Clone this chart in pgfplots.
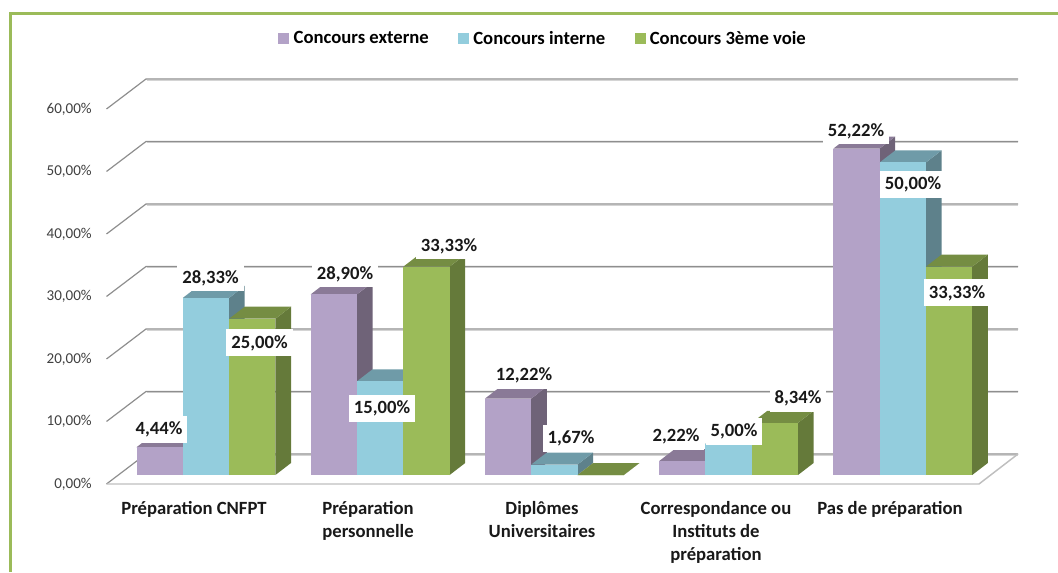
\documentclass[border=0pt]{standalone}
\usepackage{fontspec}
\setmainfont{Carlito}
\usepackage{pgfplots}
\pgfplotsset{compat=1.18}

\definecolor{frameg}{HTML}{9BBB59}
\definecolor{gridc}{HTML}{8E8E8E}
\definecolor{gridl}{HTML}{D4D4D4}
\definecolor{pf}{HTML}{B3A2C7}
\definecolor{pt}{HTML}{8A7A97}
\definecolor{ps}{HTML}{6F6378}
\definecolor{bf}{HTML}{93CDDD}
\definecolor{bt}{HTML}{6F9BA8}
\definecolor{bs}{HTML}{5E818B}
\definecolor{gf}{HTML}{9BBB59}
\definecolor{gt}{HTML}{758D43}
\definecolor{gs}{HTML}{657A3A}

% x is in picture pixels, y in percent (bar base = 0); 1% = 6.25px
% #1 left edge, #2 value, #3 front, #4 top, #5 side
\newcommand{\boxbar}[5]{%
  \pgfmathsetmacro\xa{#1+46.3}%
  \pgfmathsetmacro\xb{#1+46.3+15.6}%
  \pgfmathsetmacro\xc{#1+15.6}%
  \pgfmathsetmacro\ya{#2+1.92}%
  \addplot[forget plot, draw=none, fill=#5] coordinates {(\xa,0)(\xb,1.92)(\xb,\ya)(\xa,#2)} --cycle;
  \addplot[forget plot, draw=none, fill=#4] coordinates {(#1,#2)(\xc,\ya)(\xb,\ya)(\xa,#2)} --cycle;
  \addplot[forget plot, draw=none, fill=#3] coordinates {(#1,0)(\xa,0)(\xa,#2)(#1,#2)} --cycle;
}
\newcommand{\wall}[1]{%
  \pgfmathsetmacro\yf{#1-1.44}%
  \pgfmathsetmacro\yb{#1+3.36}%
  \pgfmathsetmacro\yl{#1+3.36-0.2}%
  \addplot[forget plot, gridl, line width=0.9pt] coordinates {(146.5,\yl)(1018,\yl)};
  \addplot[forget plot, gridc, line width=0.9pt] coordinates {(106.5,\yf)(146,\yb)(1018,\yb)};
}
\newcommand{\lab}[3]{%
  \node[fill=white, inner xsep=3.75pt, inner ysep=0pt, minimum height=20.25pt,
        font=\fontsize{14}{17}\selectfont\bfseries, text=black!90]
    at (axis cs:#1,{(475-#2)/6.25}) {\raisebox{-0.7pt}{#3}};
}

\begin{document}
\begin{tikzpicture}
\begin{axis}[
  name=chart,
  scale only axis, width=793.5pt, height=429pt,
  xmin=0, xmax=1058, ymin=-15.52, ymax=76,
  clip=false,
  axis line style={draw=none},
  major tick length=0pt,
  ytick={-1.44,8.56,18.56,28.56,38.56,48.56,58.56},
  yticklabels={{0,00\%},{10,00\%},{20,00\%},{30,00\%},{40,00\%},{50,00\%},{60,00\%}},
  yticklabel style={anchor=east, xshift=69pt, inner sep=0pt,
    font=\fontsize{11.3}{13}\selectfont, text=black!75},
  xtick={194,368,542,716,890},
  xticklabels={Préparation CNFPT,{Préparation\\personnelle},{Diplômes\\Universitaires},
    {Correspondance ou\\Instituts de\\préparation},Pas de préparation},
  xticklabel style={anchor=north, align=center, yshift=53pt, inner sep=0pt,
    font=\fontsize{14}{17.25}\selectfont\bfseries, text=black!90},
  legend columns=3,
  legend cell align=left,
  legend style={at={(543.5/1058,1-38.7/572)}, anchor=center, draw=none, fill=none,
    inner sep=0pt, font=\fontsize{14}{16}\selectfont\bfseries,
    /tikz/every odd column/.append style={column sep=1.5pt},
    /tikz/every even column/.append style={column sep=20pt}},
  legend image code/.code={\fill[#1] (0pt,-3.75pt) rectangle (7.5pt,3.75pt);},
]
% legend
\addlegendimage{pf}\addlegendentry{Concours externe}
\addlegendimage{bf}\addlegendentry{Concours interne}
\addlegendimage{gf}\addlegendentry{Concours 3ème voie}

% frame
\addplot[forget plot, frameg, line width=2.3pt] coordinates {(10.8,-15.52)(10.8,73.84)(1058,73.84)};

% walls and floor
\wall{0}\wall{10}\wall{20}\wall{30}\wall{40}\wall{50}\wall{60}
\addplot[forget plot, gridl!70!gridc, line width=1.1pt] coordinates {(106.5,-1.44)(979,-1.44)(1018,3.36)};

% Préparation CNFPT
\boxbar{136.5}{4.44}{pf}{pt}{ps}
\boxbar{182.8}{28.33}{bf}{bt}{bs}
\boxbar{229.1}{25.00}{gf}{gt}{gs}
% Préparation personnelle
\boxbar{310.7}{28.90}{pf}{pt}{ps}
\boxbar{357.0}{15.00}{bf}{bt}{bs}
\boxbar{403.3}{33.33}{gf}{gt}{gs}
% Diplômes Universitaires
\boxbar{484.9}{12.22}{pf}{pt}{ps}
\boxbar{531.2}{1.67}{bf}{bt}{bs}
\boxbar{577.5}{0}{gf}{gt}{gs}
% Correspondance ou Instituts de préparation
\boxbar{659.1}{2.22}{pf}{pt}{ps}
\boxbar{705.4}{5.00}{bf}{bt}{bs}
\boxbar{751.7}{8.34}{gf}{gt}{gs}
% Pas de préparation
\boxbar{833.3}{52.22}{pf}{pt}{ps}
\boxbar{879.6}{50.00}{bf}{bt}{bs}
\boxbar{925.9}{33.33}{gf}{gt}{gs}

% value labels
\lab{159}{429}{4,44\%}
\lab{210.5}{278}{28,33\%}
\lab{259.5}{343}{25,00\%}
\lab{345}{274}{28,90\%}
\lab{382}{408}{15,00\%}
\lab{449}{246}{33,33\%}
\lab{524}{375}{12,22\%}
\lab{571}{438}{1,67\%}
\lab{676}{436}{2,22\%}
\lab{734}{431}{5,00\%}
\lab{798}{398}{8,34\%}
\lab{856}{131}{52,22\%}
\lab{913}{184}{50,00\%}
\lab{957}{293}{33,33\%}
\end{axis}
\pgfresetboundingbox
\path[use as bounding box] (chart.south west) rectangle (chart.north east);
\end{tikzpicture}
\end{document}
